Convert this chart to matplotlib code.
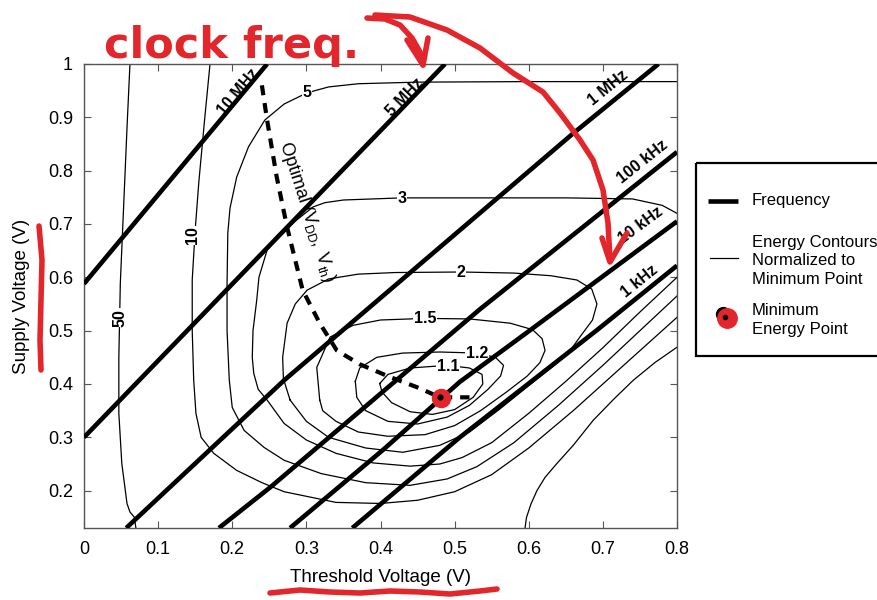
import numpy as np
import matplotlib.pyplot as plt
from matplotlib.patches import Rectangle
from matplotlib.ticker import FuncFormatter

plt.rcParams['font.family'] = ['Liberation Sans', 'DejaVu Sans']
plt.rcParams['mathtext.fontset'] = 'custom'
plt.rcParams['mathtext.rm'] = 'Liberation Sans'
plt.rcParams['mathtext.it'] = 'Liberation Sans:italic'

RED = '#e3262b'

# --- constant-frequency lines (Vth, Vdd) ---
freq_names = ['10 MHz', '5 MHz', '1 MHz', '100 kHz', '10 kHz', '1 kHz']
freq_vth = [[0.0, 0.247],
            [0.0, 0.487],
            [0.057, 0.27, 0.66, 0.775],
            [0.182, 0.251, 0.534, 0.8],
            [0.278, 0.403, 0.507, 0.602, 0.8],
            [0.362, 0.507, 0.692, 0.8]]
freq_vdd = [[0.588, 1.0],
            [0.30, 1.0],
            [0.13, 0.407, 0.87, 1.0],
            [0.13, 0.206, 0.54, 0.835],
            [0.13, 0.276, 0.404, 0.501, 0.705],
            [0.13, 0.30, 0.501, 0.622]]
freq_label_vth = [0.208, 0.433, 0.707, 0.754, 0.751, 0.749]
freq_label_vdd = [0.947, 0.938, 0.955, 0.816, 0.698, 0.593]

# --- energy contours, normalized to the minimum point ---
contour_levels = ['50', '50', '10', '5', '3', '2', '1.5', '1.2', '1.1']
contour_vth = [
    [0.062, 0.058, 0.054, 0.049, 0.047, 0.047, 0.051, 0.058, 0.062, 0.068, 0.070],
    [0.595, 0.597, 0.603, 0.611, 0.622, 0.638, 0.66, 0.687, 0.715, 0.741, 0.77, 0.8],
    [0.170, 0.163, 0.155, 0.150, 0.146, 0.146, 0.148, 0.151, 0.158, 0.175, 0.206, 0.24,
     0.27, 0.34, 0.40, 0.45, 0.50, 0.55, 0.60, 0.66, 0.72, 0.8],
    [0.8, 0.6, 0.45, 0.37, 0.33, 0.301, 0.27, 0.244, 0.222, 0.206, 0.197, 0.194, 0.193,
     0.193, 0.196, 0.2, 0.216, 0.243, 0.27, 0.32, 0.38, 0.44, 0.49, 0.53, 0.58, 0.64,
     0.70, 0.75, 0.8],
    [0.8, 0.78, 0.74, 0.65, 0.55, 0.429, 0.35, 0.325, 0.309, 0.282, 0.262, 0.247, 0.236,
     0.233, 0.228, 0.227, 0.229, 0.235, 0.247, 0.27, 0.30, 0.34, 0.39, 0.44, 0.48, 0.51,
     0.55, 0.60, 0.65, 0.70, 0.75, 0.8],
    [0.278, 0.269, 0.268, 0.274, 0.285, 0.301, 0.33, 0.37, 0.42, 0.509, 0.58, 0.63,
     0.665, 0.685, 0.692, 0.686, 0.67, 0.656, 0.638, 0.60, 0.56, 0.52, 0.48, 0.43, 0.38,
     0.33, 0.30, 0.278],
    [0.318, 0.314, 0.332, 0.363, 0.40, 0.46, 0.52, 0.575, 0.605, 0.618, 0.622, 0.615,
     0.598, 0.57, 0.535, 0.50, 0.46, 0.41, 0.37, 0.34, 0.322, 0.318],
    [0.366, 0.372, 0.395, 0.43, 0.48, 0.53, 0.555, 0.566, 0.562, 0.545, 0.52, 0.49,
     0.45, 0.41, 0.38, 0.368, 0.366],
    [0.399, 0.41, 0.44, 0.49, 0.52, 0.537, 0.538, 0.525, 0.50, 0.47, 0.44, 0.415, 0.402,
     0.399],
]
contour_vdd = [
    [1.0, 0.88, 0.75, 0.589, 0.45, 0.345, 0.251, 0.176, 0.16, 0.150, 0.13],
    [0.13, 0.15, 0.175, 0.2, 0.225, 0.251, 0.285, 0.332, 0.372, 0.407, 0.44, 0.469],
    [1.0, 0.9, 0.78, 0.689, 0.595, 0.5, 0.407, 0.345, 0.30, 0.270, 0.238, 0.215,
     0.198, 0.178, 0.176, 0.182, 0.198, 0.23, 0.28, 0.35, 0.425, 0.525],
    [0.967, 0.967, 0.966, 0.963, 0.957, 0.946, 0.925, 0.895, 0.845, 0.788, 0.73, 0.683,
     0.589, 0.5, 0.407, 0.356, 0.313, 0.281, 0.257, 0.232, 0.215, 0.21, 0.222, 0.245,
     0.29, 0.36, 0.435, 0.50, 0.565],
    [0.72, 0.735, 0.747, 0.749, 0.749, 0.749, 0.745, 0.74, 0.732, 0.702, 0.675, 0.651,
     0.6, 0.557, 0.5, 0.45, 0.42, 0.39, 0.37, 0.326, 0.295, 0.27, 0.252, 0.246, 0.25,
     0.262, 0.29, 0.345, 0.405, 0.468, 0.535, 0.60],
    [0.37, 0.41, 0.45, 0.514, 0.55, 0.576, 0.597, 0.606, 0.609, 0.610, 0.608, 0.603,
     0.595, 0.578, 0.55, 0.52, 0.49, 0.463, 0.439, 0.397, 0.352, 0.31, 0.285, 0.272,
     0.28, 0.30, 0.33, 0.37],
    [0.37, 0.431, 0.488, 0.51, 0.52, 0.523, 0.522, 0.514, 0.502, 0.485, 0.463, 0.44,
     0.415, 0.385, 0.35, 0.322, 0.305, 0.302, 0.31, 0.33, 0.35, 0.37],
    [0.405, 0.43, 0.45, 0.458, 0.46, 0.458, 0.45, 0.435, 0.415, 0.39, 0.36, 0.338,
     0.325, 0.33, 0.35, 0.375, 0.405],
    [0.401, 0.418, 0.43, 0.435, 0.43, 0.418, 0.40, 0.375, 0.352, 0.343, 0.348, 0.365,
     0.385, 0.401],
]
clabel_text = ['50', '10', '5', '3', '2', '1.5', '1.2', '1.1']
clabel_vth = [0.049, 0.147, 0.301, 0.429, 0.509, 0.460, 0.530, 0.491]
clabel_vdd = [0.524, 0.679, 0.946, 0.747, 0.610, 0.523, 0.458, 0.432]
clabel_rot = [90, 90, 0, 0, 0, 0, 0, 0]

# --- optimal (Vdd, Vth) trajectory and minimum energy point ---
opt_vth = [0.240, 0.247, 0.260, 0.274, 0.295, 0.318, 0.341, 0.372, 0.413, 0.453, 0.480, 0.520]
opt_vdd = [0.96, 0.895, 0.788, 0.694, 0.576, 0.514, 0.463, 0.437, 0.413, 0.392, 0.375, 0.375]
mep_vth, mep_vdd = 0.48, 0.375

fig = plt.figure(figsize=(8.78, 6.0), dpi=100)
ax = fig.add_axes([84 / 878, 72 / 600, 593 / 878, 464 / 600])
ax.set_xlim(0, 0.8)
ax.set_ylim(0.13, 1.0)

for xs, ys in zip(contour_vth, contour_vdd):
    ax.plot(xs, ys, color='black', lw=0.9, solid_joinstyle='round', zorder=2)

for s, x, y, r in zip(clabel_text, clabel_vth, clabel_vdd, clabel_rot):
    ax.text(x, y, s, rotation=r, ha='center', va='center', fontsize=11.5,
            fontweight='bold', zorder=3,
            bbox=dict(facecolor='white', edgecolor='none', pad=0.5))

for name, xs, ys, lx, ly in zip(freq_names, freq_vth, freq_vdd,
                                freq_label_vth, freq_label_vdd):
    ax.plot(xs, ys, color='black', lw=3.3, solid_capstyle='butt', zorder=4)
    i = int(np.clip(np.searchsorted(xs, lx), 1, len(xs) - 1))
    p0, p1 = ax.transData.transform([(xs[i - 1], ys[i - 1]), (xs[i], ys[i])])
    ang = np.degrees(np.arctan2(p1[1] - p0[1], p1[0] - p0[0]))
    ax.text(lx, ly, name, rotation=ang, rotation_mode='anchor', ha='center',
            va='center', fontsize=11.5, fontweight='bold', zorder=5)

ax.plot(opt_vth, opt_vdd, color='black', lw=3.0, dashes=(2.4, 1.9), zorder=4)
ax.text(0.300, 0.724, r'Optimal $(\mathrm{V}_{\mathrm{DD}},\ \mathrm{V}_{\mathrm{th}})$',
        rotation=-72, rotation_mode='anchor', ha='center', va='center',
        fontsize=13, zorder=5)

ax.plot(mep_vth, mep_vdd, 'o', color='black', ms=9, zorder=6)
ax.plot(mep_vth + 0.002, mep_vdd - 0.002, 'o', color=RED, mec=RED, ms=13, zorder=7)
ax.plot(mep_vth, mep_vdd, 'o', color='black', ms=3.5, zorder=8)

ax.set_xticks(np.arange(0, 0.81, 0.1))
ax.set_yticks(np.arange(0.2, 1.01, 0.1))
fmt = FuncFormatter(lambda v, p: '%g' % round(v, 2))
ax.xaxis.set_major_formatter(fmt)
ax.yaxis.set_major_formatter(fmt)
ax.tick_params(direction='in', top=True, right=True, length=5, width=0.8,
               color='#555555', labelsize=13)
ax.tick_params(axis='x', pad=9)
ax.tick_params(axis='y', pad=8)
for sp in ax.spines.values():
    sp.set_color('#555555')
    sp.set_linewidth(1.0)
ax.set_xlabel('Threshold Voltage (V)', fontsize=13.5, labelpad=8)
ax.set_ylabel('Supply Voltage (V)', fontsize=13.5, labelpad=13)

# legend box on the right
lax = fig.add_axes([696 / 878, (600 - 356) / 600, 200 / 878, 193 / 600])
lax.set_xlim(696, 896)
lax.set_ylim(356, 163)
lax.axis('off')
lax.add_patch(Rectangle((696, 163), 200, 193, fill=False, lw=1.6,
                        edgecolor='black', clip_on=False))
lax.plot([708, 738], [201, 201], color='black', lw=3.3, solid_capstyle='butt')
lax.text(752, 201, 'Frequency', va='center', fontsize=12)
lax.plot([710, 738], [258, 258], color='black', lw=0.9)
lax.text(752, 261, 'Energy Contours\nNormalized to\nMinimum Point', va='center',
         fontsize=12, linespacing=1.28)
lax.plot(723, 314, 'o', color='black', ms=10)
lax.plot(727, 318, 'o', color=RED, mec=RED, ms=14)
lax.plot(725, 317, 'o', color='black', ms=3)
lax.text(752, 320, 'Minimum\nEnergy Point', va='center', fontsize=12, linespacing=1.28)

# red pen markup on top of everything
ann = fig.add_axes([0, 0, 1, 1], zorder=10)
ann.set_xlim(0, 878)
ann.set_ylim(600, 0)
ann.axis('off')
ann.patch.set_alpha(0)
pen = dict(color=RED, lw=4, solid_capstyle='round', solid_joinstyle='round')
ann.text(232, 46, 'clock freq.', color=RED, fontsize=31, fontweight='bold',
         family='DejaVu Sans', ha='center', va='center')
ann.plot([367, 385, 400, 412, 420, 423], [18, 19, 25, 38, 52, 65], **pen)
ann.plot([407, 423, 428], [40, 65, 38], **pen)
ann.plot([375, 410, 447, 480, 513, 543, 560, 580, 593, 603, 608, 610],
         [15, 17, 30, 48, 73, 92, 113, 140, 160, 190, 223, 260], **pen)
ann.plot([602, 610, 627], [238, 262, 233], **pen)
ann.plot([270, 300, 330, 360, 390, 420, 450, 480, 497],
         [593, 590, 592, 593, 591, 592, 594, 591, 589], **pen)
ann.plot([39, 42, 41, 40, 41], [226, 260, 300, 340, 370], **pen)

fig.savefig('out.png', dpi=100)
